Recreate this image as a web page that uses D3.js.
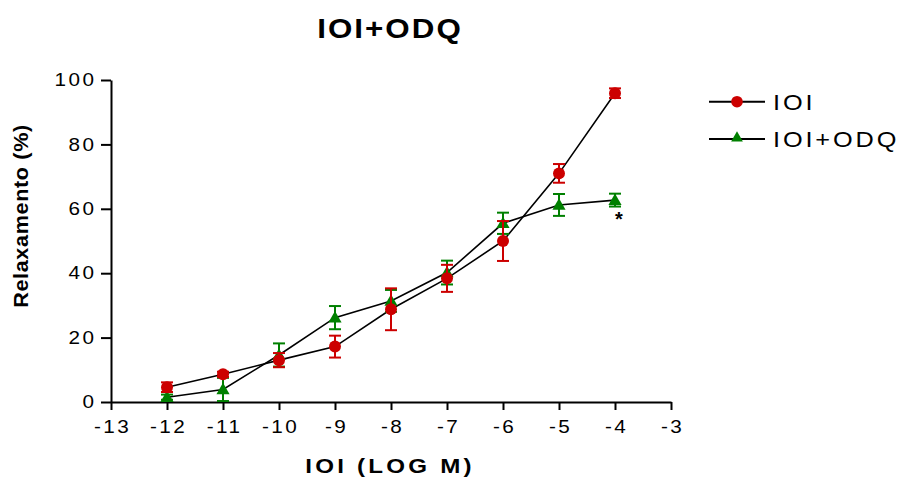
<!DOCTYPE html>
<html>
<head>
<meta charset="utf-8">
<script src="https://cdn.jsdelivr.net/npm/d3@7"></script>
<style>
  body { margin: 0; background: #fff; }
  text { font-family: "Liberation Sans", Arial, sans-serif; fill: #000; }
</style>
</head>
<body>
<div id="chart"></div>
<script>
// log concentrations
let doses = [-12, -11, -10, -9, -8, -7, -6, -5, -4];

// IOI alone
let ioiMean = [4.6, 8.6, 13.0, 17.2, 28.8, 38.4, 50.0, 71.0, 95.9];
let ioiErr  = [1.5, 0.8, 2.2, 3.4, 6.5, 4.2, 6.2, 2.9, 1.5];

// IOI + ODQ
let odqMean = [1.5, 3.9, 14.6, 26.2, 31.4, 40.2, 55.5, 61.2, 62.7];
let odqErr  = [0.8, 3.6, 3.6, 3.6, 3.4, 3.7, 3.3, 3.4, 2.0];

let xTicks = [-13, -12, -11, -10, -9, -8, -7, -6, -5, -4, -3];
let yTicks = [0, 20, 40, 60, 80, 100];

// text in the original is wide; stretch it a little
function wideText(parent, px, py, sx, str) {
    return parent.append("text")
        .attr("transform", `translate(${px},${py}) scale(${sx},1)`)
        .text(str);
}

function makeChart() {
    let svgWidth = 898;
    let svgHeight = 479;

    let svg = d3.select("#chart")
        .append("svg")
        .attr("width", svgWidth)
        .attr("height", svgHeight);

    let x = d3.scaleLinear().domain([-13, -3]).range([111, 671]);
    let y = d3.scaleLinear().domain([0, 100]).range([402, 80]);

    let red = "#cc0000";
    let green = "#008000";

    // axes
    let xAxis = svg.append("g")
        .attr("transform", "translate(0,402)")
        .call(d3.axisBottom(x).tickValues(xTicks).tickFormat(d => String(d))
            .tickSizeInner(8).tickSizeOuter(0).tickPadding(10));
    let yAxis = svg.append("g")
        .attr("transform", "translate(111,0)")
        .call(d3.axisLeft(y).tickValues(yTicks).tickFormat(d => String(d))
            .tickSizeInner(10).tickSizeOuter(0).tickPadding(4.5));

    [xAxis, yAxis].forEach(function(g) {
        g.select(".domain").attr("stroke", "#000").attr("stroke-width", 2);
        g.selectAll(".tick line").attr("stroke", "#000").attr("stroke-width", 2);
        g.selectAll(".tick text")
            .attr("font-family", "Liberation Sans, Arial, sans-serif")
            .attr("font-size", "18px")
            .attr("letter-spacing", "2.2px")
            .attr("transform", "scale(1.15,1)")
            .attr("fill", "#000");
    });
    xAxis.selectAll(".tick text").attr("dx", "1");
    yAxis.selectAll(".tick text").attr("dx", "2");

    let series = [
        { mean: odqMean, err: odqErr, color: green, shape: "tri" },
        { mean: ioiMean, err: ioiErr, color: red, shape: "circle" }
    ];

    let line = d3.line()
        .x(d => x(d[0]))
        .y(d => y(d[1]));

    // connecting lines first
    series.forEach(function(s) {
        svg.append("path")
            .datum(doses.map((d, i) => [d, s.mean[i]]))
            .attr("d", line)
            .attr("fill", "none")
            .attr("stroke", "#000")
            .attr("stroke-width", 1.6);
    });

    let tri = d3.symbol().type(d3.symbolTriangle).size(75);

    series.forEach(function(s) {
        let g = svg.append("g");
        doses.forEach(function(d, i) {
            let cx = x(d);
            let top = y(s.mean[i] + s.err[i]);
            let bot = y(s.mean[i] - s.err[i]);
            g.append("line").attr("x1", cx).attr("x2", cx).attr("y1", top).attr("y2", bot)
                .attr("stroke", s.color).attr("stroke-width", 2);
            g.append("line").attr("x1", cx - 6).attr("x2", cx + 6).attr("y1", top).attr("y2", top)
                .attr("stroke", s.color).attr("stroke-width", 2);
            g.append("line").attr("x1", cx - 6).attr("x2", cx + 6).attr("y1", bot).attr("y2", bot)
                .attr("stroke", s.color).attr("stroke-width", 2);
        });
        if (s.shape === "circle") {
            g.selectAll("circle.pt")
                .data(doses)
                .enter()
                .append("circle")
                .attr("cx", d => x(d))
                .attr("cy", (d, i) => y(s.mean[i]))
                .attr("r", 6)
                .attr("fill", s.color);
        } else {
            g.selectAll("path.pt")
                .data(doses)
                .enter()
                .append("path")
                .attr("d", tri)
                .attr("transform", (d, i) => `translate(${x(d)},${y(s.mean[i]) + 1})`)
                .attr("fill", s.color);
        }
    });

    // significance mark
    svg.append("text")
        .attr("x", x(-4) + 4)
        .attr("y", y(odqMean[8]) + 26)
        .attr("text-anchor", "middle")
        .attr("font-size", "20px")
        .attr("font-weight", "bold")
        .text("*");

    // title
    wideText(svg, 390, 38, 1.12, "IOI+ODQ")
        .attr("text-anchor", "middle")
        .attr("font-size", "28px")
        .attr("font-weight", "bold")
        .attr("letter-spacing", "1.8px");

    // axis titles
    wideText(svg, 390, 473, 1.15, "IOI (LOG M)")
        .attr("text-anchor", "middle")
        .attr("font-size", "21px")
        .attr("font-weight", "bold")
        .attr("letter-spacing", "2.8px");

    svg.append("text")
        .attr("transform", "translate(28,216) rotate(-90) scale(1.08,1)")
        .attr("text-anchor", "middle")
        .attr("font-size", "20px")
        .attr("font-weight", "bold")
        .attr("letter-spacing", "0.6px")
        .text("Relaxamento (%)");

    // legend
    let legend = svg.append("g");
    let items = [
        { label: "IOI", color: red, shape: "circle", y: 101.7 },
        { label: "IOI+ODQ", color: green, shape: "tri", y: 139 }
    ];
    items.forEach(function(it) {
        legend.append("line").attr("x1", 709).attr("x2", 765).attr("y1", it.y).attr("y2", it.y)
            .attr("stroke", "#000").attr("stroke-width", 2);
        if (it.shape === "circle") {
            legend.append("circle").attr("cx", 737).attr("cy", it.y).attr("r", 5.8).attr("fill", it.color);
        } else {
            legend.append("path").attr("d", d3.symbol().type(d3.symbolTriangle).size(60))
                .attr("transform", `translate(737,${it.y - 1})`).attr("fill", it.color);
        }
        wideText(legend, 773, it.y + 8, 1.15, it.label)
            .attr("font-size", "22px")
            .attr("letter-spacing", "2.5px");
    });
}

makeChart();
</script>
</body>
</html>
